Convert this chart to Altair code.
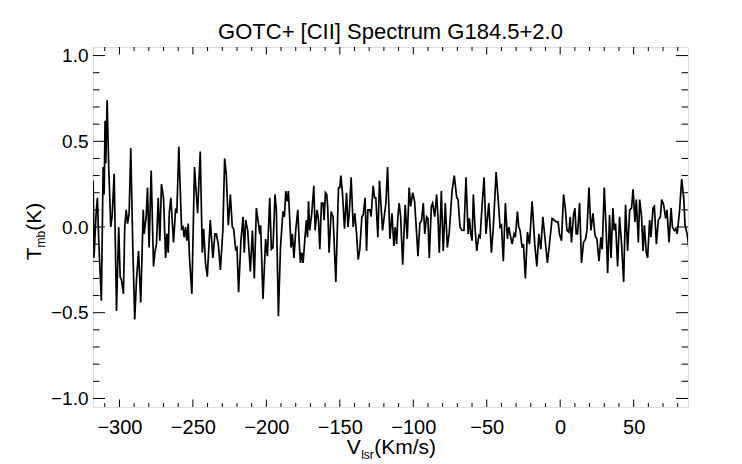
import altair as alt
import pandas as pd

# V_lsr (km/s) and T_mb (K)
velocity = [
    -317.9, -317.3, -315.9, -315.0, -314.1, -312.3, -311.1, -310.4, -309.8, -309.3,
    -308.4, -307.3, -305.9, -305.0, -303.6, -302.0, -300.5, -299.5, -298.6, -297.3,
    -296.4, -295.4, -294.5, -293.4, -292.3, -290.9, -289.6, -288.4, -287.0, -285.5,
    -283.8, -283.2, -281.8, -280.9, -279.8, -278.4, -276.8, -275.9, -274.8, -273.6,
    -272.5, -271.4, -270.0, -268.6, -267.7, -266.8, -266.1, -265.0,
    -263.2, -261.8, -260.9, -259.6, -257.7, -256.8, -255.9, -255.0, -254.1, -253.2,
    -252.3, -250.7, -248.9, -246.8, -245.0, -243.6, -242.7, -241.4, -240.2, -238.2,
    -236.4, -235.0, -234.1, -232.7, -231.3, -229.6, -228.4, -227.3, -225.9, -224.5,
    -223.2, -222.3, -220.9, -220.0, -218.9, -217.3, -215.9, -215.0, -214.1, -212.7,
    -210.9, -209.5, -208.2, -206.8, -205.7, -204.5, -203.9, -202.3, -200.5, -199.3,
    -197.7, -196.6, -195.5, -194.1, -193.2, -191.8, -190.4, -188.7, -187.7, -186.8,
    -185.9, -185.0, -183.2, -182.3, -181.2, -180.0, -178.6, -177.7, -176.8, -175.9,
    -175.0, -173.7, -172.7, -172.0, -171.3, -170.5, -169.1, -167.7, -166.8, -165.5,
    -164.5, -163.6, -162.5, -161.4, -160.7, -159.8, -158.9, -158.2, -157.3, -155.9,
    -154.6, -152.7, -150.9, -150.0, -149.3, -148.2, -146.8, -145.4, -144.5, -143.7,
    -142.3, -140.9, -139.8, -138.6, -137.5, -136.4, -135.0, -134.1, -132.8, -131.8,
    -130.9, -129.5, -128.7, -127.3, -126.3, -125.5, -124.1, -123.0,
    -120.9, -119.5, -118.6, -117.5, -115.9, -114.5, -113.2, -112.3, -111.3, -110.5,
    -109.6, -108.6, -107.2, -105.5, -104.1, -102.8, -101.8, -100.4, -99.1, -97.7,
    -96.8, -95.5, -94.3, -93.2, -92.2, -90.9, -90.0, -89.1, -87.7, -86.8,
    -85.4, -84.1, -83.2, -82.3, -80.9, -79.6, -78.2, -76.8, -75.5, -73.6,
    -72.1, -70.4, -69.5, -68.2, -66.8, -65.5, -64.1, -62.7, -61.8, -60.9,
    -60.0, -59.1, -58.0, -56.8, -55.4, -54.5, -53.2, -51.8, -50.5, -48.6,
    -46.8, -45.5, -43.6, -42.3, -40.9, -40.0, -38.7, -37.3, -35.9, -35.0,
    -34.1, -32.7, -31.4, -30.5, -29.1, -28.2,
    -27.3, -25.9, -25.0, -23.7, -22.3, -20.9, -19.1, -17.3, -15.9, -14.5,
    -13.2, -11.8, -10.4, -8.7, -7.3, -5.5, -4.1, -2.7, -1.4, -0.5,
    0.9, 2.3, 3.6, 4.6, 5.9, 6.8, 7.7, 9.1, 10.0, 10.9,
    11.8, 13.2, 14.5, 15.9, 17.3, 18.2, 19.6, 20.9, 22.3, 23.7,
    25.0, 26.4, 27.7, 28.6, 30.0, 31.4, 32.3, 33.6, 34.6, 35.9,
    36.8, 37.7, 39.1, 40.4, 41.8, 43.2, 44.5, 45.9, 47.3, 48.6,
    49.6, 50.9, 51.8, 53.2, 54.1, 55.4, 56.4, 57.3, 58.6, 59.5,
    60.9, 61.8, 63.2, 64.1, 65.5, 66.8, 68.2, 69.1, 70.4, 71.8,
    72.7, 74.1, 75.5, 76.4, 77.7, 78.6, 79.6, 80.5, 81.3, 82.7,
    84.1, 85.0, 86.4, 87.7,
]
tmb = [
    0.27, -0.18, 0.08, 0.17, -0.08, -0.43, 0.35, 0.19, 0.62, 0.37,
    0.74, 0.35, 0.00, 0.06, 0.31, -0.49, 0.00, -0.29, -0.31, -0.39,
    0.00, 0.10, 0.02, 0.08, 0.46, -0.12, -0.54, -0.31, -0.14, -0.44,
    0.10, -0.04, 0.06, 0.23, -0.12, 0.33, -0.23, -0.15, -0.10, 0.17,
    -0.08, 0.25, 0.17, -0.18, -0.04, -0.15, 0.08, 0.17,
    -0.09, 0.10, 0.09, 0.47, -0.01, 0.00, -0.06, 0.00, -0.08, 0.02,
    -0.18, -0.39, 0.35, 0.08, 0.44, -0.15, -0.01, -0.21, -0.29, 0.04,
    -0.18, -0.04, -0.04, -0.10, -0.25, -0.02, 0.40, 0.31, 0.01, 0.19,
    0.00, -0.01, -0.13, -0.12, -0.38, -0.08, 0.06, -0.15, 0.04, -0.02,
    -0.26, -0.02, -0.30, 0.11, 0.04, -0.04, 0.01, -0.42, -0.07, -0.17,
    0.17, -0.13, -0.12, 0.19, 0.10, -0.52, -0.12, 0.09, 0.06, 0.21,
    0.15, 0.21, -0.12, -0.04, -0.18, -0.02, 0.10, -0.08, -0.21, -0.15,
    -0.21, -0.06, 0.04, -0.06, 0.15, -0.02, 0.08, 0.24, -0.02, 0.10,
    0.04, -0.13, 0.14, 0.14, 0.04, 0.20, 0.19, 0.11, -0.15, 0.09,
    0.06, -0.32, 0.23, 0.23, 0.30, 0.20, -0.01, 0.20, 0.00, 0.06,
    0.29, 0.00, 0.08, -0.04, -0.19, -0.13, 0.06, 0.07, 0.17, -0.14,
    0.10, 0.10, 0.06, 0.24, 0.17, 0.17, -0.06, 0.27,
    -0.02, 0.08, 0.14, 0.35, -0.07, 0.08, -0.11, 0.00, -0.10, 0.06,
    0.14, 0.06, -0.22, 0.13, -0.07, 0.23, 0.12, 0.20, 0.15, -0.04,
    -0.17, 0.02, 0.04, 0.14, -0.04, 0.06, 0.05, -0.18, 0.12, 0.14,
    0.06, 0.19, 0.06, -0.15, 0.21, -0.14, 0.14, -0.12, -0.03, 0.21,
    0.30, 0.17, 0.16, 0.00, -0.02, -0.02, 0.29, -0.04, 0.05, -0.04,
    -0.08, 0.19, 0.00, -0.14, -0.05, -0.06, 0.12, 0.29, -0.04, 0.14,
    -0.15, 0.00, 0.32, 0.17, 0.00, 0.01, -0.20, 0.14, -0.07, 0.00,
    -0.04, -0.10, -0.04, -0.06, 0.09, 0.00,
    -0.02, -0.12, -0.10, -0.30, -0.03, -0.10, 0.15, -0.10, -0.23, -0.04,
    -0.13, 0.06, -0.06, -0.21, -0.10, 0.05, 0.04, 0.03, 0.03, -0.04,
    -0.08, 0.19, 0.10, -0.02, -0.03, 0.06, -0.09, 0.07, 0.11, -0.04,
    -0.04, 0.14, -0.21, -0.09, -0.07, -0.02, 0.23, -0.02, 0.08, -0.05,
    -0.07, -0.20, -0.06, -0.13, 0.23, -0.04, -0.27, 0.07, -0.18, 0.11,
    -0.02, 0.02, -0.23, 0.06, -0.10, -0.32, 0.13, -0.14, 0.10, 0.11,
    0.22, 0.03, 0.16, -0.09, 0.16, 0.06, -0.14, 0.01, -0.15, -0.18,
    0.04, -0.06, 0.11, 0.12, -0.10, 0.04, 0.06, 0.16, 0.13, 0.05,
    0.10, -0.09, 0.11, 0.00, -0.02, -0.01, -0.04, 0.03, 0.10, 0.28,
    0.17, 0.01, -0.04, -0.13,
]

x_major = [-300, -250, -200, -150, -100, -50, 0, 50]
x_minor = [-310, -290, -280, -270, -260, -240, -230, -220, -210, -190, -180,
           -170, -160, -140, -130, -120, -110, -90, -80, -70, -60, -40, -30,
           -20, -10, 10, 20, 30, 40, 60, 70, 80]
y_major = [-1.0, -0.5, 0.0, 0.5, 1.0]
y_minor = [-0.9, -0.8, -0.7, -0.6, -0.4, -0.3, -0.2, -0.1,
           0.1, 0.2, 0.3, 0.4, 0.6, 0.7, 0.8, 0.9]

title_text = "GOTC+ [CII] Spectrum G184.5+2.0"

W, H = 595, 360
FONT = "Liberation Sans"

df = pd.DataFrame({"v": velocity, "T": tmb})

xscale = alt.Scale(domain=[-318, 87], nice=False, zero=False)
yscale = alt.Scale(domain=[-1.05, 1.05], nice=False, zero=False)
xaxis = alt.Axis(values=x_major, format="d", title=None, domain=False, ticks=False,
                 tickSize=0, grid=False, labelFont=FONT, labelFontSize=20,
                 labelColor="black", labelPadding=10, labelFlush=False)
yaxis = alt.Axis(values=y_major, format=".1f", title=None, domain=False, ticks=False,
                 tickSize=0, grid=False, labelFont=FONT, labelFontSize=19,
                 labelColor="black", labelPadding=5, labelFlush=False)

line = alt.Chart(df).mark_line(color="black", strokeWidth=1.7, clip=True).encode(
    x=alt.X("v:Q", scale=xscale, axis=xaxis),
    y=alt.Y("T:Q", scale=yscale, axis=yaxis),
    order=alt.Order("v:Q"),
)


def xticks(vals, length, top):
    d = pd.DataFrame({"v": vals})
    y0, y1 = (0, length) if top else (H, H - length)
    return alt.Chart(d).mark_rule(color="black", strokeWidth=1).encode(
        x=alt.X("v:Q", scale=xscale, axis=xaxis),
        y=alt.value(y0), y2=alt.value(y1))


def yticks(vals, length, right):
    d = pd.DataFrame({"T": vals})
    x0, x1 = (W, W - length) if right else (0, length)
    return alt.Chart(d).mark_rule(color="black", strokeWidth=1).encode(
        y=alt.Y("T:Q", scale=yscale, axis=yaxis),
        x=alt.value(x0), x2=alt.value(x1))


one = alt.Data(values=[{"k": 1}])


def label(text, x, y, size, angle=0):
    kw = dict(text=text, font=FONT, fontSize=size, color="black",
              align="left", baseline="alphabetic")
    if angle:
        kw["angle"] = angle
    return alt.Chart(one).mark_text(**kw).encode(x=alt.value(x), y=alt.value(y))


title = alt.Chart(one).mark_text(
    text=title_text, font=FONT, fontSize=22, color="black",
    align="center", baseline="alphabetic",
).encode(x=alt.value(W / 2), y=alt.value(-8.5))

layers = [
    line,
    xticks(x_major, 7.5, False), xticks(x_minor, 4, False),
    xticks(x_major, 7.5, True), xticks(x_minor, 4, True),
    yticks(y_major, 12, False), yticks(y_minor, 6.5, False),
    yticks(y_major, 12, True), yticks(y_minor, 6.5, True),
    title,
    label("V", 253.7, 407.3, 21),
    label("lsr", 268.2, 411.8, 12),
    label("(Km/s)", 281.2, 407.3, 21),
    label("T", -51.6, 213.3, 21, 270),
    label("mb", -47.8, 200.5, 12, 270),
    label("(K)", -51.6, 183.8, 21, 270),
]

chart = alt.layer(*layers).properties(
    width=W, height=H,
    autosize=alt.AutoSizeParams(type="none"),
    padding={"left": 85, "top": 39, "right": 46, "bottom": 58},
).configure_view(stroke="black", strokeWidth=1.1).configure(background="white")

chart.save("out.html", embed_options={"renderer": "svg", "actions": False})
